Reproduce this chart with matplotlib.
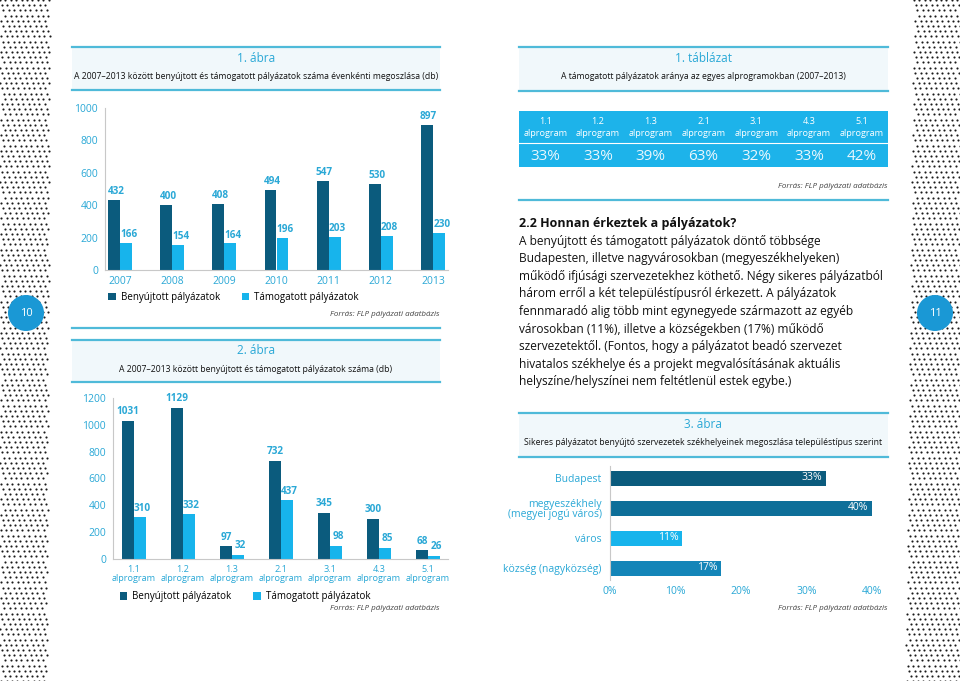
import numpy as np
import matplotlib.pyplot as plt
from matplotlib.patches import Rectangle, Circle

plt.rcParams['font.family'] = ['Open Sans', 'DejaVu Sans']

W, H = 960, 681

DARK = '#0b5b7d'
LIGHT = '#17b4ec'
CYAN = '#2aa8d6'
LINE = '#4fbad9'
BOXBG = '#f1f8fb'
GREY = '#c8c8c8'

# 1. ábra
years = ['2007', '2008', '2009', '2010', '2011', '2012', '2013']
submitted_by_year = [432, 400, 408, 494, 547, 530, 897]
supported_by_year = [166, 154, 164, 196, 203, 208, 230]

# 2. ábra
programs = ['1.1', '1.2', '1.3', '2.1', '3.1', '4.3', '5.1']
submitted_by_prog = [1031, 1129, 97, 732, 345, 300, 68]
supported_by_prog = [310, 332, 32, 437, 98, 85, 26]

# 1. táblázat
support_rate = ['33%', '33%', '39%', '63%', '32%', '33%', '42%']

# 3. ábra
places = ['Budapest', 'megyeszékhely\n(megyei jogú város)', 'város', 'község (nagyközség)']
place_share = [33, 40, 11, 17]
place_colors = ['#0b5b7d', '#0e6f99', '#17b4ec', '#1485b8']

paragraph = [
    'A benyújtott és támogatott pályázatok döntő többsége',
    'Budapesten, illetve nagyvárosokban (megyeszékhelyeken)',
    'működő ifjúsági szervezetekhez köthető. Négy sikeres pályázatból',
    'három erről a két településtípusról érkezett. A pályázatok',
    'fennmaradó alig több mint egynegyede származott az egyéb',
    'városokban (11%), illetve a községekben (17%) működő',
    'szervezetektől. (Fontos, hogy a pályázatot beadó szervezet',
    'hivatalos székhelye és a projekt megvalósításának aktuális',
    'helyszíne/helyszínei nem feltétlenül estek egybe.)',
]
source = 'Forrás: FLP pályázati adatbázis'


def box(x0, y0, w, h):
    # pixel box (top-left origin) -> figure fraction
    return [x0 / W, 1 - (y0 + h) / H, w / W, h / H]


fig = plt.figure(figsize=(W / 100, H / 100), dpi=100)
bg = fig.add_axes([0, 0, 1, 1])
bg.set_xlim(0, W)
bg.set_ylim(H, 0)
bg.axis('off')

# dotted page edges (decoration)
dx, dy = 5.4, 5.2
for j in range(int(H / dy) + 2):
    y = j * dy
    off = (j * 1.7) % dx
    xl = np.arange(off, 50 - y * 0.004, dx)
    bg.scatter(xl, np.full(len(xl), y), s=2.4, color='#1a1a1a', lw=0)
    xr = np.arange(914 - y * 0.012 + off, W, dx)
    bg.scatter(xr, np.full(len(xr), y), s=2.4, color='#1a1a1a', lw=0)

# page numbers
for cx, num in [(26, '10'), (935, '11')]:
    bg.add_patch(Circle((cx, 313), 18, color='#1a98d5', lw=0))
    bg.text(cx, 313, num, color='white', ha='center', va='center', fontsize=8)


def header(x0, x1, ytop, ybot, title, subtitle):
    bg.add_patch(Rectangle((x0, ytop), x1 - x0, ybot - ytop, color=BOXBG, lw=0))
    bg.plot([x0, x1], [ytop, ytop], color=LINE, lw=1.6)
    bg.plot([x0, x1], [ybot, ybot], color=LINE, lw=1.6)
    bg.text((x0 + x1) / 2, ytop + 11, title, color=CYAN, ha='center', va='center', fontsize=8.5)
    bg.text((x0 + x1) / 2, ytop + 29.5, subtitle, color='#111111', ha='center', va='center', fontsize=6.2)


def src(x, y):
    bg.text(x, y, source, ha='right', va='center', fontsize=5.8, style='italic', color='#444444')


header(72, 440, 47, 90, '1. ábra',
       'A 2007–2013 között benyújtott és támogatott pályázatok száma évenkénti megoszlása (db)')
header(72, 440, 340, 382, '2. ábra',
       'A 2007–2013 között benyújtott és támogatott pályázatok száma (db)')
bg.plot([72, 440], [328, 328], color=LINE, lw=1.6)
src(440, 315)
src(440, 608)

header(519, 888, 47, 91, '1. táblázat',
       'A támogatott pályázatok aránya az egyes alprogramokban (2007–2013)')
bg.plot([519, 888], [200, 200], color=LINE, lw=1.6)
src(888, 187)
header(519, 888, 413, 457, '3. ábra',
       'Sikeres pályázatot benyújtó szervezetek székhelyeinek megoszlása településtípus szerint')
src(888, 608)


def style_axis(ax, size=7.5):
    for s in ['top', 'right']:
        ax.spines[s].set_visible(False)
    ax.spines['left'].set_color(GREY)
    ax.spines['bottom'].set_color(GREY)
    ax.tick_params(axis='y', length=0, colors=CYAN, labelsize=7.5, pad=5)
    ax.tick_params(axis='x', length=0, colors=CYAN, labelsize=size, pad=4)
    ax.set_facecolor('none')


# chart 1
ax1 = fig.add_axes(box(105, 108, 343, 162))
x = np.arange(len(years))
b1 = ax1.bar(x - 0.115, submitted_by_year, 0.23, color=DARK, label='Benyújtott pályázatok')
b2 = ax1.bar(x + 0.115, supported_by_year, 0.23, color=LIGHT, label='Támogatott pályázatok')
for i in range(len(years)):
    ax1.text(x[i] - 0.08, submitted_by_year[i] + 18, str(submitted_by_year[i]), ha='center',
             va='bottom', color=CYAN, fontsize=7.2, fontweight='bold')
    ax1.text(x[i] + 0.17, supported_by_year[i] + 18, str(supported_by_year[i]), ha='center',
             va='bottom', color=CYAN, fontsize=7.2, fontweight='bold')
ax1.set_ylim(0, 1000)
ax1.set_xlim(-0.29, 6.29)
ax1.set_yticks([0, 200, 400, 600, 800, 1000])
ax1.set_xticks(x)
ax1.set_xticklabels(years)
style_axis(ax1)
ax1.legend(handles=[b1, b2], loc='upper left', bbox_to_anchor=(0.01, -0.135), ncol=2, frameon=False,
           fontsize=7, handlelength=0.8, handleheight=0.8, handletextpad=0.5, columnspacing=2.2,
           borderaxespad=0, borderpad=0)

# chart 2
ax2 = fig.add_axes(box(113, 398, 335, 161))
x = np.arange(len(programs))
c1 = ax2.bar(x - 0.12, submitted_by_prog, 0.24, color=DARK, label='Benyújtott pályázatok')
c2 = ax2.bar(x + 0.12, supported_by_prog, 0.24, color=LIGHT, label='Támogatott pályázatok')
for i in range(len(programs)):
    ax2.text(x[i] - 0.12, submitted_by_prog[i] + 25, str(submitted_by_prog[i]), ha='center',
             va='bottom', color=CYAN, fontsize=7.2, fontweight='bold')
    ax2.text(x[i] + 0.17, supported_by_prog[i] + 25, str(supported_by_prog[i]), ha='center',
             va='bottom', color=CYAN, fontsize=7.2, fontweight='bold')
ax2.set_ylim(0, 1200)
ax2.set_xlim(-0.43, 6.41)
ax2.set_yticks([0, 200, 400, 600, 800, 1000, 1200])
ax2.set_xticks(x)
ax2.set_xticklabels([p + '\nalprogram' for p in programs], linespacing=1.0)
style_axis(ax2, size=6.6)
ax2.legend(handles=[c1, c2], loc='upper left', bbox_to_anchor=(0.02, -0.2), ncol=2, frameon=False,
           fontsize=7, handlelength=0.8, handleheight=0.8, handletextpad=0.5, columnspacing=2.2,
           borderaxespad=0, borderpad=0)

# table
tx0, tw = 519, 369
bg.add_patch(Rectangle((tx0, 111), tw, 56, color='#1db3ea', lw=0))
bg.plot([tx0, tx0 + tw], [143, 143], color='white', lw=0.8)
cw = tw / len(programs)
for i in range(len(programs)):
    cx = tx0 + cw * (i + 0.5)
    bg.text(cx, 122, programs[i], color='white', ha='center', va='center', fontsize=6.6)
    bg.text(cx, 133, 'alprogram', color='white', ha='center', va='center', fontsize=6.6)
    bg.text(cx, 156, support_rate[i], color='#eaf7fd', ha='center', va='center', fontsize=11)

# text
bg.text(519, 223, '2.2 Honnan érkeztek a pályázatok?', fontsize=9, fontweight='bold',
        ha='left', va='center', color='#111111')
for i, line in enumerate(paragraph):
    bg.text(519, 241 + i * 17.6, line, fontsize=8.6, ha='left', va='center', color='#111111')

# chart 3
ax3 = fig.add_axes(box(610, 466, 270, 114))
y = np.arange(len(places))
ax3.barh(y, place_share, 0.5, color=place_colors)
for i in range(len(places)):
    ax3.text(place_share[i] - 0.6, y[i], f'{place_share[i]}%', ha='right', va='center',
             color='white', fontsize=7.5)
ax3.set_xlim(0, 41.2)
ax3.set_ylim(3.4, -0.4)
ax3.set_xticks([0, 10, 20, 30, 40])
ax3.set_xticklabels(['0%', '10%', '20%', '30%', '40%'])
ax3.set_yticks(y)
ax3.set_yticklabels(places, linespacing=1.0)
style_axis(ax3)
ax3.spines['bottom'].set_visible(False)
ax3.tick_params(axis='y', pad=6)

fig.savefig('out.png', dpi=100)
